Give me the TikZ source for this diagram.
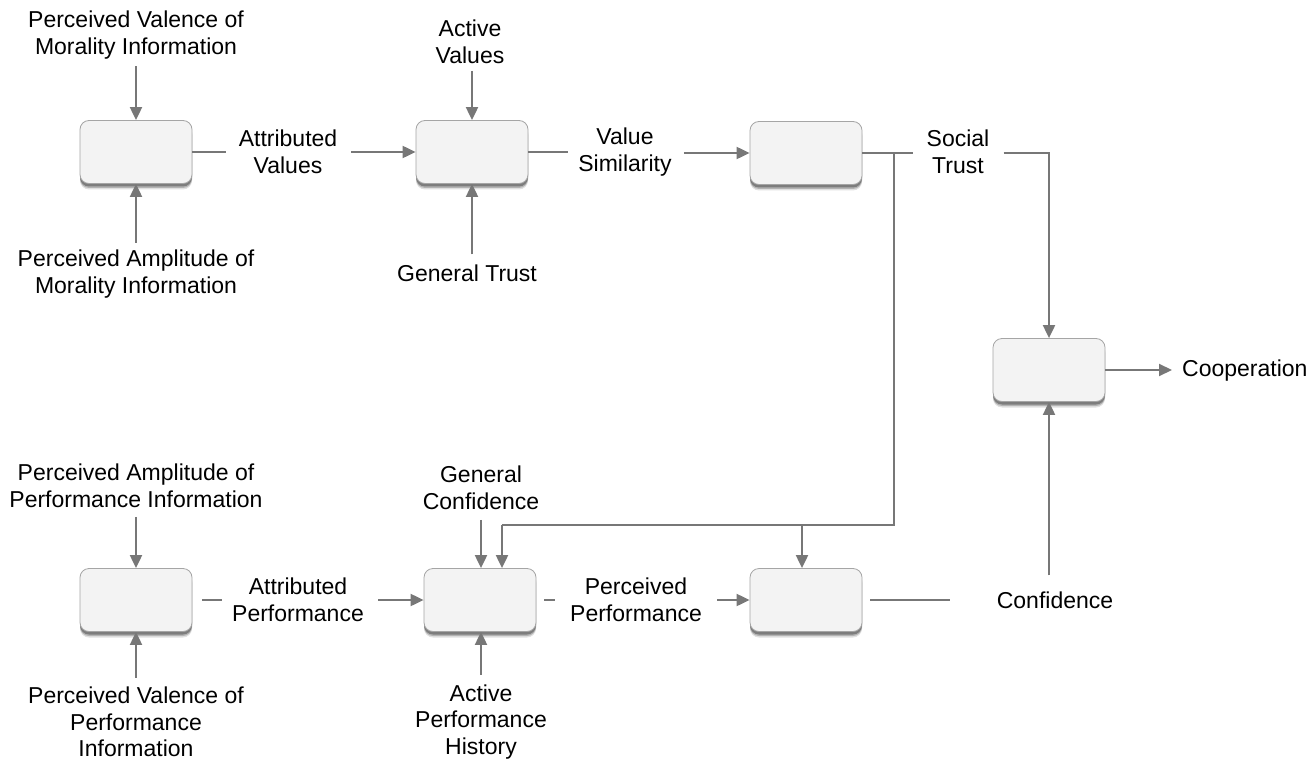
\documentclass[tikz,border=0pt]{standalone}
\usepackage{fontspec}
\setmainfont{Liberation Sans}
\usetikzlibrary{arrows.meta,shadows}
\definecolor{arrgray}{HTML}{777777}
\definecolor{boxfill}{HTML}{F3F3F3}
\definecolor{boxline}{HTML}{A5A5A5}
\begin{document}
\begin{tikzpicture}[x=1pt,y=-1pt,
  box/.style={draw=boxline, line width=0.8pt, fill=boxfill, rounded corners=9pt,
    minimum width=112pt, minimum height=63pt, inner sep=0pt,
    drop shadow={shadow xshift=0pt, shadow yshift=-6pt, opacity=0.12, fill=black},
    drop shadow={shadow xshift=0pt, shadow yshift=-4.5pt, opacity=0.2, fill=black},
    drop shadow={shadow xshift=0pt, shadow yshift=-3pt, opacity=0.3, fill=black}},
  lbl/.style={font=\fontsize{23}{26.5}\selectfont, align=center, inner sep=0pt},
  ln/.style={draw=arrgray, line width=2pt},
  arr/.style={ln, -{Triangle[length=13pt,width=12pt]}},
]
\useasboundingbox (0,0) rectangle (1311,762);

% boxes
\node[box] (A) at (136,152) {};
\node[box] (B) at (472,152) {};
\node[box] (C) at (806,153) {};
\node[box] (D) at (1049,370) {};
\node[box] (E) at (136,600) {};
\node[box] (F) at (480,600) {};
\node[box] (G) at (806,600) {};

% labels top
\node[lbl] (pvm) at (136,35) {Perceived Valence of\\Morality Information};
\node[lbl] (pam) at (136,274) {Perceived Amplitude of\\Morality Information};
\node[lbl] (av) at (288,152) {Attributed\\Values};
\node[lbl] (actv) at (470,42) {Active\\Values};
\node[lbl] (gt) at (467,273) {General Trust};
\node[lbl] (vs) at (625,152) {Value\\Similarity};
\node[lbl] (st) at (958,152) {Social\\Trust};
\node[lbl, anchor=west] (coop) at (1182,371) {Cooperation};

% labels bottom
\node[lbl] (paperf) at (136,486) {Perceived Amplitude of\\Performance Information};
\node[lbl] (pvperf) at (136,722) {Perceived Valence of\\Performance\\Information};
\node[lbl] (ap) at (298,600) {Attributed\\Performance};
\node[lbl] (gc) at (481,488) {General\\Confidence};
\node[lbl] (pp) at (636,600) {Perceived\\Performance};
\node[lbl] (aph) at (481,722) {Active\\Performance\\History};
\node[lbl] (conf) at (1055,600) {Confidence};

% junction coordinates
\coordinate (j1) at (894,153);
\coordinate (j2) at (894,525);
\coordinate (j3) at (502,525);
\coordinate (j4) at (802,525);
\coordinate (gend) at (950,600);

% top row connectors
\draw[arr, shorten <=7pt] (pvm.south) -- (A.north);
\draw[arr, shorten <=7pt] (pam.north) -- (A.south);
\draw[ln, shorten >=13pt] (A.east) -- (A.east -| av.west);
\draw[arr, shorten <=14pt] (av.east |- B.west) -- (B.west);
\draw[arr, shorten <=7pt] (actv.south -| B.north) -- (B.north);
\draw[arr, shorten <=10pt] (gt.north -| B.south) -- (B.south);
\draw[ln, shorten >=10pt] (B.east) -- (B.east -| vs.west);
\draw[arr, shorten <=12pt] (vs.east |- C.west) -- (C.west);
\draw[ln, shorten >=13pt] (C.east) -- (C.east -| st.west);
\draw[arr, shorten <=14pt] (st.east |- C.east) -- (C.east -| D.north) -- (D.north);
\draw[arr, shorten >=10pt] (D.east) -- (D.east -| coop.west);

% feedback from social trust
\draw[ln] (j1) -- (j2) -- (j3);
\draw[arr] (j3) -- (j3 |- F.north);
\draw[arr] (j4) -- (j4 |- G.north);

% bottom row connectors
\draw[arr, shorten <=9pt] (paperf.south) -- (E.north);
\draw[arr, shorten <=9pt] (pvperf.north) -- (E.south);
\draw[ln, shorten <=10pt, shorten >=10pt] (E.east) -- (E.east -| ap.west);
\draw[arr, shorten <=14pt] (ap.east |- F.west) -- (F.west);
\draw[arr, shorten <=10pt] (gc.south) -- (gc.south |- F.north);
\draw[arr, shorten <=10pt] (aph.north) -- (aph.north |- F.south);
\draw[ln, shorten <=8pt, shorten >=15pt] (F.east) -- (F.east -| pp.west);
\draw[arr, shorten <=15pt] (pp.east |- G.west) -- (G.west);
\draw[ln, shorten <=8pt] (G.east) -- (G.east -| gend);
\draw[arr, shorten <=16pt] (conf.north -| D.south) -- (D.south);
\end{tikzpicture}
\end{document}
